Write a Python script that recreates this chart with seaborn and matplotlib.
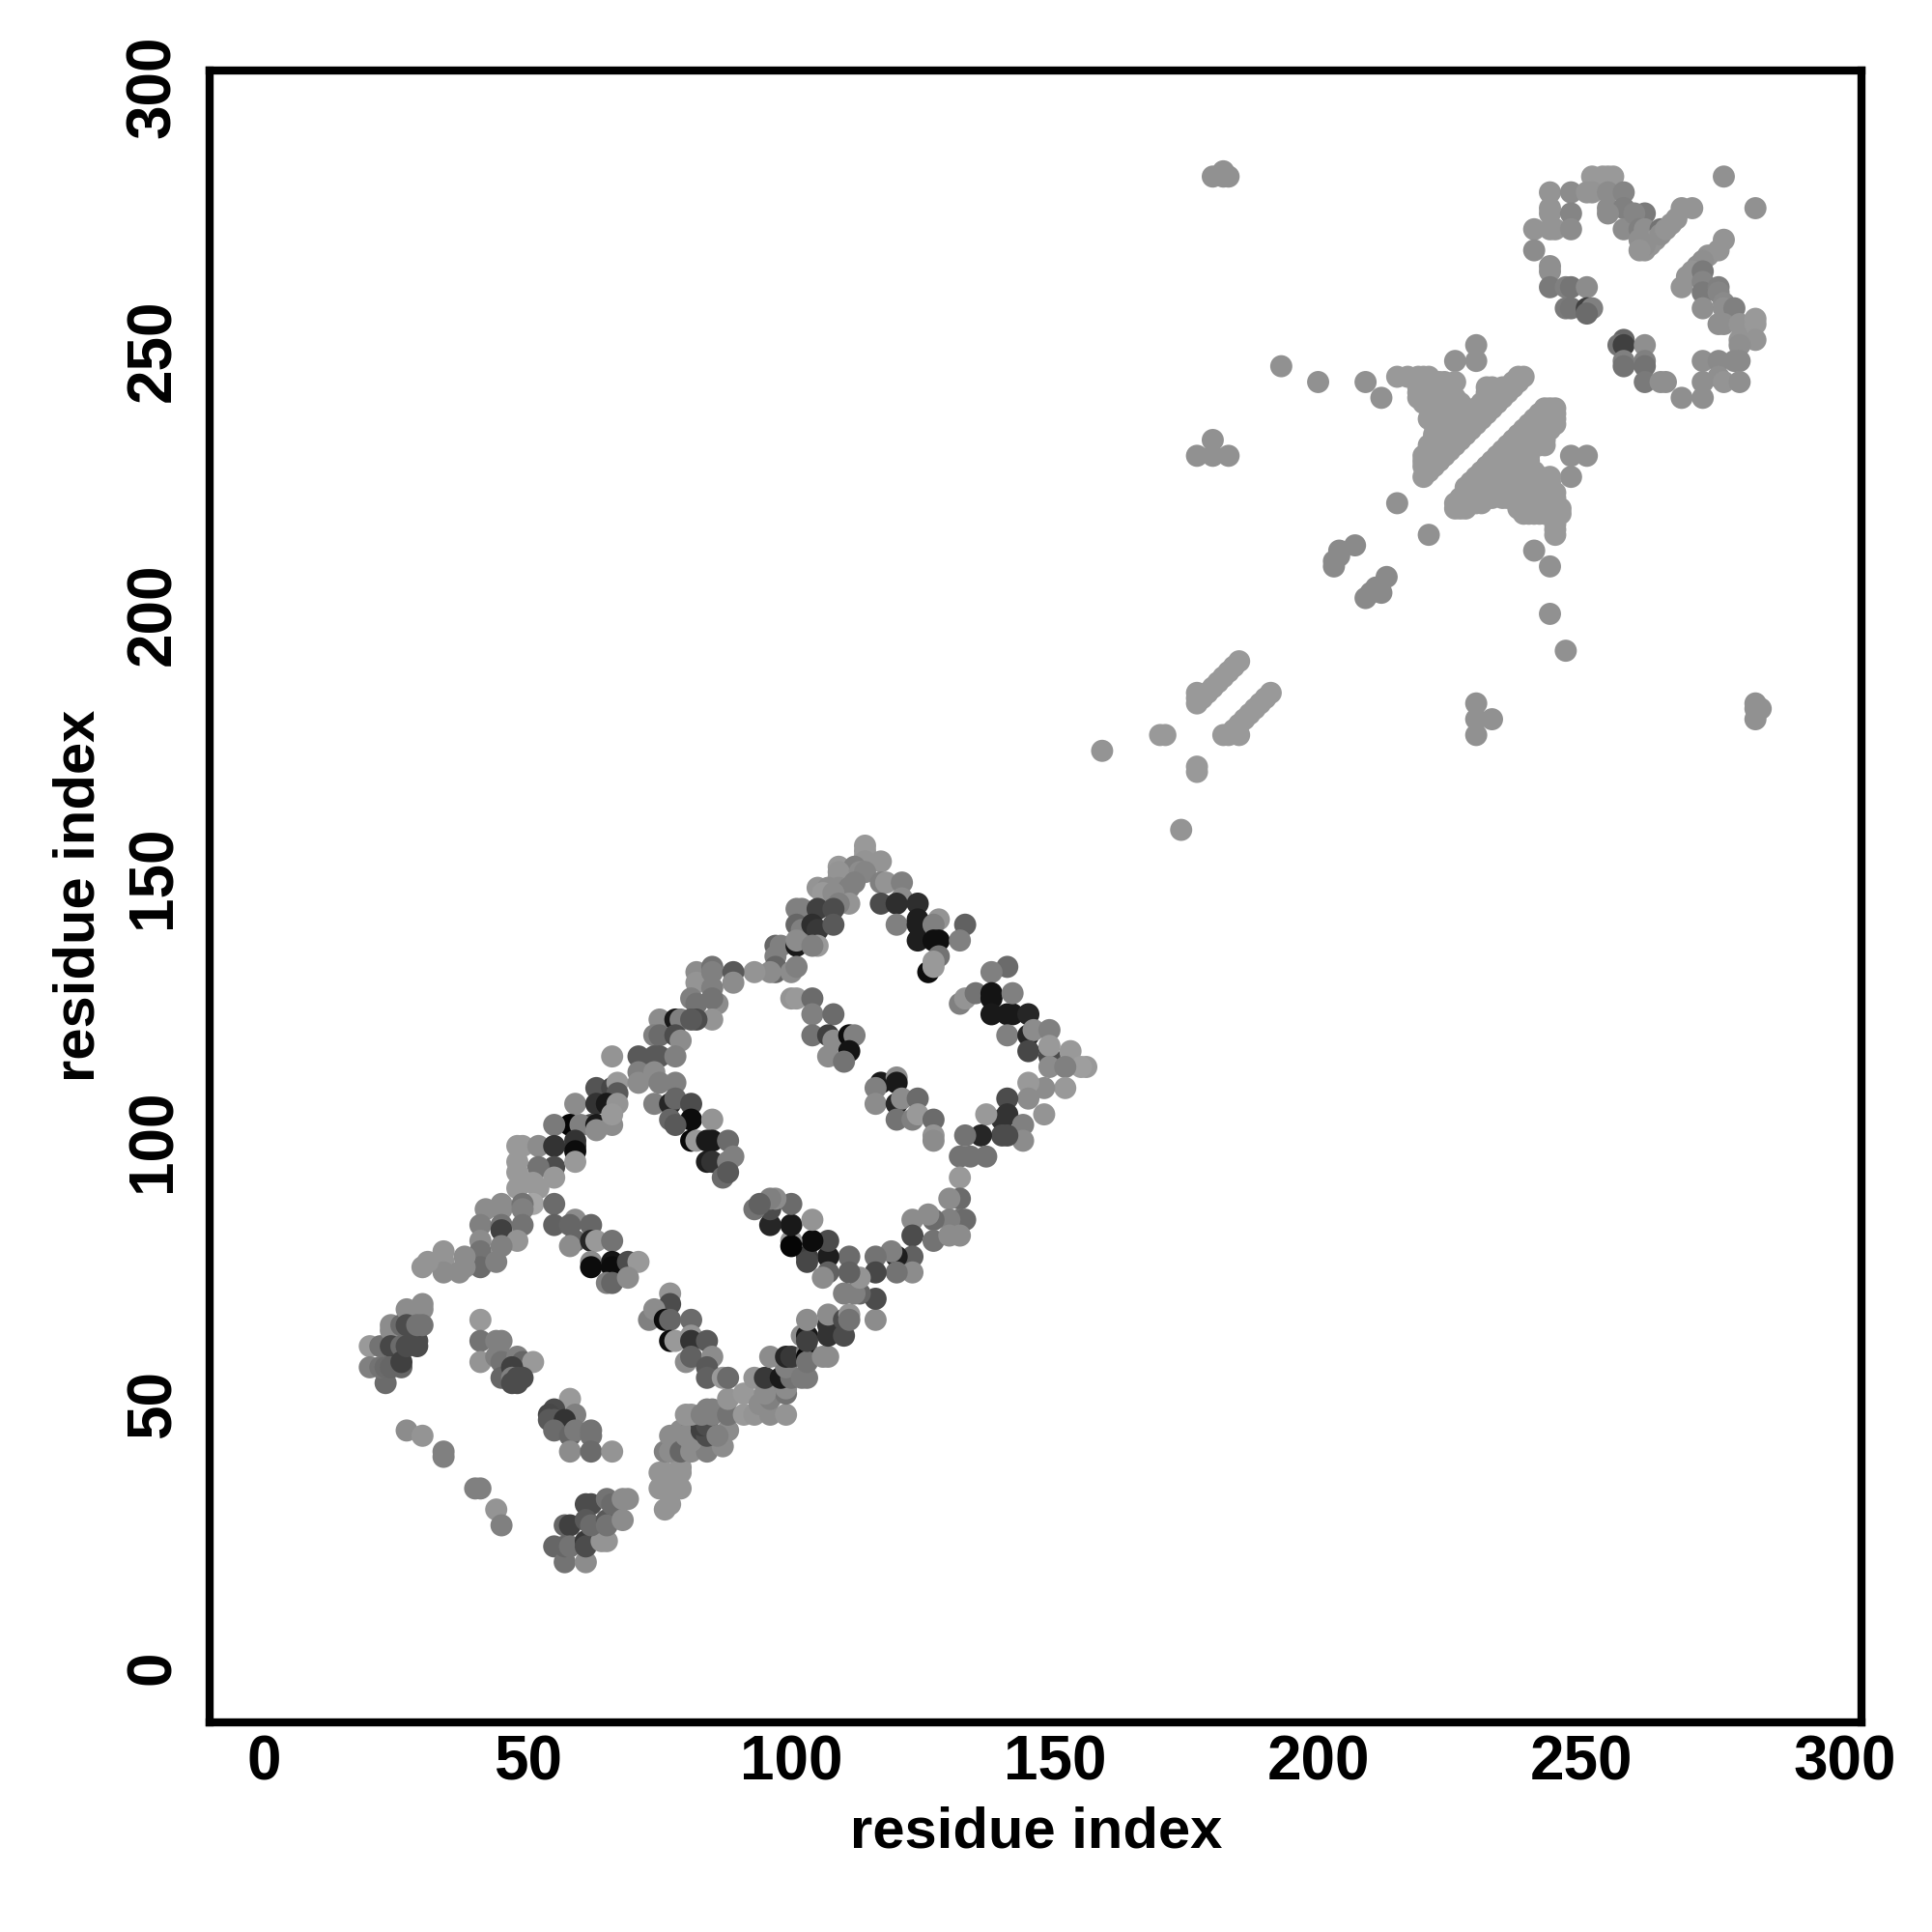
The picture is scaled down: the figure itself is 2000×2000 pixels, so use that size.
import pandas as pd
import seaborn as sns
import matplotlib.pyplot as plt

OUTPUT = "out.png"
TICKS = [0, 50, 100, 150, 200, 250, 300]
AXIS_LABEL = "residue index"

# (residue i, residue j, grey level)
patch_a = [(20,61,.6),(20,57,.5),(23,54,.42),(22,61,.45),(22,57,.45),(23,57,.42),(24,65,.55),(24,64,.55),(24,61,.28),(24,57,.4),
           (26,65,.42),(26,61,.42),(26,57,.4),(26,58,.25),(27,68,.55),(27,65,.3),(27,61,.3),(29,62,.3),(29,61,.3),(30,69,.55),
           (30,68,.55),(29,65,.45),(30,65,.45)]
patch_b = [(41,66,.6),(41,62,.45),(44,62,.5),(45,62,.5),(41,58,.58),(44,59,.5),(45,59,.5),(45,58,.45),(45,55,.4),(48,59,.5),
           (49,58,.4),(51,58,.6),(47,57,.25),(47,55,.5),(48,55,.3),(49,55,.3),(47,54,.3),(48,54,.3)]
patch_c = [(27,45,.55),(30,44,.58),(34,41,.5),(34,40,.5),(40,34,.5),(41,34,.5),(44,30,.58),(45,27,.5),(159,174,.58),(174,159,.58)]
patch_d = [(55,23,.4),(57,20,.45),(61,20,.55),(57,27,.4),(58,27,.25),(57,23,.4),(58,23,.45),(61,24,.22),(61,23,.3),(64,24,.58),
           (65,24,.58),(61,31,.3),(62,31,.3),(61,28,.35),(62,27,.42),(65,28,.35),(65,27,.45),(65,32,.45),(66,31,.42),(68,32,.55),
           (69,32,.55),(68,28,.55)]
patch_e = [(58,51,.6),(59,48,.5),(55,49,.3),(54,48,.28),(54,47,.35),(55,47,.35),(57,47,.2),(55,45,.42),(58,44,.4),(59,45,.48),
           (58,41,.55),(62,45,.45),(62,44,.45),(62,41,.42),(66,41,.58)]
patch_f = [(76,30,.58),(77,31,.58),(75,34,.58),(75,37,.58),(76,37,.58),(79,38,.58),(79,37,.58),(79,34,.58),(77,34,.58),(76,41,.5),
           (77,44,.55),(77,41,.55),(79,41,.4),(81,41,.55),(84,41,.5),(87,42,.55),(79,45,.55),(81,45,.5),(80,44,.55),(81,43,.55),
           (83,45,.25),(84,44,.3),(83,46,.25),(84,46,.3),(88,45,.55),(86,44,.5),(80,48,.58),(81,48,.58),(83,48,.5),(84,49,.5),
           (85,48,.5),(85,49,.5),(88,48,.45),(88,51,.58),(91,52,.6),(91,48,.6),(93,48,.58),(93,55,.58),(94,50,.55),(96,48,.55),
           (96,52,.5),(96,51,.5),(99,48,.58),(99,52,.45),(99,53,.55),(95,52,.55),(95,55,.22),(98,55,.1),(100,55,.45),(99,57,.5),
           (96,59,.55),(99,59,.15),(100,59,.22),(102,55,.48),(103,55,.48)]
patch_g = [(103,60,.5),(103,59,.03),(103,58,.45),(106,59,.55),(107,59,.55),(102,63,.55),(103,63,.1),(103,62,.25),(107,65,.2),(107,63,.2),(110,63,.3),
           (103,66,.55),(107,67,.55),(110,66,.3),(111,67,.58),(111,66,.45),(116,66,.55)]
patch_k = [(66,116,.58),(63,110,.33),(66,110,.28),(67,111,.6),(67,109,.35),(59,107,.55),(63,107,.2),(65,107,.1),(67,107,.58),
           (62,103,.3),(58,103,.02),(60,103,.5),(63,103,.1),(63,102,.55),(66,103,.55)]
ring_top = [(114,156,.6),(114,155,.6),(114,154,.6),(114,153,.58),(117,153,.58),(109,152,.6),(112,152,.5),(109,151,.58),(113,151,.55),
            (114,151,.52),(109,150,.58),(112,149,.5),(117,149,.5),(118,149,.58),(121,149,.5),(105,148,.58),(107,148,.55),(109,148,.55),
            (111,148,.5),(106,147,.6),(108,147,.55),(101,144,.5),(102,144,.5),(105,144,.25),(111,145,.58),(109,145,.5),(108,144,.3),
            (121,146,.55),(124,145,.18),(117,145,.3),(120,145,.18),(101,141,.4),(102,140,.5),(104,141,.18),(105,140,.22),(108,141,.35),
            (120,141,.5),(124,142,.12),(124,141,.12),(128,142,.58),(127,141,.5),(124,138,.12),(127,138,.06),(128,138,.06),(133,141,.38),
            (132,138,.5),(97,137,.4),(98,137,.5),(101,137,.1),(101,138,.55),(105,137,.6),(104,137,.5),(97,135,.5),(97,133,.4),(97,132,.4),
            (96,132,.55),(93,132,.58),(100,132,.55),(101,133,.5),(126,132,.05),(128,135,.45),(127,134,.6),(127,133,.6)]
ring_right = [(141,133,.42),(138,132,.5),(132,126,.5),(133,127,.58),(135,128,.45),(138,128,.08),(138,127,.08),(138,124,.1),(141,124,.1),
              (142,124,.1),(145,124,.15),(142,128,.5),(141,120,.5),(145,120,.15),(146,121,.55),(149,121,.5),(145,117,.28),(149,116,.3),
              (149,118,.6),(153,117,.6),(156,114,.6),(155,114,.62),(149,114,.55),(152,114,.5),(152,110,.6),(148,110,.55),(148,105,.58),
              (145,111,.6),(145,108,.55),(141,108,.3),(141,105,.2),(140,104,.2),(144,103,.5),(144,100,.55),(141,101,.3),(140,101,.3),
              (137,105,.6),(136,101,.15),(137,97,.45),(133,101,.45),(132,97,.45),(134,97,.45),(132,93,.6)]
ring_bottom = [(132,89,.42),(130,89,.55),(132,85,.45),(133,85,.42),(130,85,.5),(127,85,.42),(126,86,.55),(123,85,.55),(123,82,.3),(127,81,.45),
               (130,82,.55),(132,82,.55),(123,78,.38),(120,78,.12),(119,79,.5),(116,78,.45),(123,75,.55),(120,75,.45),(116,75,.28),(116,70,.3),
               (113,71,.4),(112,71,.5),(110,71,.5),(113,74,.58),(111,78,.42),(111,75,.38),(107,78,.12),(107,75,.38),(106,74,.55),(103,78,.25),
               (103,77,.28),(107,81,.3),(104,81,.05),(100,81,.6),(100,80,.02),(100,84,.1),(104,85,.58),(96,84,.15),(96,87,.3),(100,88,.42),
               (97,89,.55),(96,89,.5),(93,87,.45),(94,88,.38)]
inner_g = [(100,127,.58),(101,127,.6),(104,127,.42),(104,124,.5),(108,124,.42),(104,120,.45),(107,120,.25),(108,119,.55),(111,120,.05),(112,120,.5),
           (111,117,.08),(107,116,.55),(110,115,.45)]
inner_h = [(117,111,.1),(120,112,.55),(120,111,.1),(116,110,.5),(116,107,.55),(120,107,.15),(121,108,.55),(124,108,.42),(120,104,.45),(123,104,.5),
           (124,105,.6),(127,104,.42),(127,101,.58),(127,100,.55)]
ring_left = [(82,132,.55),(82,130,.58),(85,133,.45),(85,132,.5),(89,132,.35),(89,130,.55),(85,129,.5),(81,127,.5),(82,126,.45),(86,126,.55),
             (85,127,.45),(85,123,.58),(75,123,.55),(78,123,.1),(79,123,.5),(82,123,.3),(81,123,.35),(74,120,.5),(75,120,.42),(78,120,.3),
             (79,119,.55),(71,116,.35),(74,116,.35),(75,116,.35),(78,116,.5),(71,113,.5),(71,111,.55),(74,113,.55),(75,111,.5),(78,111,.5),
             (74,107,.5),(77,107,.15),(78,108,.4),(81,107,.3),(81,104,.05),(77,104,.4),(78,103,.35),(85,104,.58),(81,100,.03),(82,100,.6),
             (84,100,.1),(85,100,.1),(88,100,.42),(84,96,.12),(85,96,.2),(88,96,.5),(89,97,.5),(87,93,.42),(88,94,.35)]
ring_lower_left = [(55,103,.48),(66,105,.6),(48,99,.6),(49,99,.6),(52,99,.55),
                   (55,99,.2),(59,100,.2),(59,99,.2),(59,98,.05),(55,95,.3),(48,96,.6),(52,95,.45),(59,96,.6),(55,93,.6),(48,94,.6),
                   (48,91,.6),(52,91,.6),(51,92,.6),(49,92,.6),(51,88,.65),(42,87,.55),(45,88,.55),(45,87,.55),(49,88,.45),(49,87,.5),
                   (41,84,.5),(45,84,.45),(45,83,.25),(49,84,.45),(48,81,.58),(41,81,.55),(41,79,.45),(45,80,.5),(41,76,.42),(44,77,.5),
                   (38,78,.55),(38,76,.55),(34,79,.58),(34,77,.58),(34,75,.55),(37,75,.55),(31,77,.58),(30,76,.58)]
inner_i = [(55,88,.42),(55,84,.38),(59,85,.55),(62,84,.4),(58,84,.4),(59,81,.4),(58,80,.55),(62,81,.15),(63,81,.6),(66,81,.45),
           (62,77,.55),(62,76,.05),(66,77,.08),(66,76,.05),(69,77,.3),(71,77,.6),(65,73,.5),(66,73,.4),(69,74,.55)]
inner_j = [(77,71,.58),(77,69,.3),(73,66,.5),(74,68,.55),(76,66,.05),(77,66,.4),(81,66,.42),(77,62,.05),(78,62,.6),(81,63,.58),
           (81,62,.2),(84,62,.35),(80,58,.55),(81,59,.38),(85,59,.55),(84,57,.35),(84,55,.38),(87,55,.6),(88,55,.42)]

# second domain
stripe_x = [178, 179, 180, 181, 182, 183, 184, 185, 177, 177, 177, 183, 184, 185, 186, 187, 188, 189, 190, 191, 182, 185, 170, 171, 177, 177]
stripe_y = [184, 185, 186, 187, 188, 189, 190, 191, 185, 184, 183, 177, 178, 179, 180, 181, 182, 183, 184, 185, 177, 177, 177, 177, 171, 170]
loose_x = [180, 182, 182, 183, 180, 177, 180, 183, 193, 200, 209, 212, 230, 230, 226, 215, 221, 241, 244, 244, 247, 248, 251, 248, 230, 230, 230, 233, 283, 283, 284, 283, 277, 283]
loose_y = [283, 284, 283, 283, 233, 230, 230, 230, 247, 244, 244, 241, 251, 248, 248, 221, 215, 212, 209, 200, 193, 230, 230, 226, 183, 180, 177, 180, 183, 180, 182, 182, 283, 277]
short_x = [207, 204, 204, 203, 212, 213, 211, 210, 203, 209]
short_y = [213, 212, 211, 210, 204, 207, 205, 204, 209, 203]

wing_rows = {
    245: [215, 217, 219, 220, 221, 238, 239],
    244: [219, 220, 221, 222, 223, 224, 226, 237, 238],
    243: [219, 220, 221, 222, 223, 224, 225, 232, 233, 235, 236, 237],
    242: [219, 220, 221, 222, 223, 224, 225, 232, 233, 234, 235, 236],
    241: [219, 220, 221, 222, 223, 224, 225, 226, 232, 233, 234, 235],
    240: [220, 221, 222, 223, 224, 225, 226, 227, 231, 232, 233, 234],
    239: [222, 223, 224, 225, 226, 227, 228, 230, 231, 232, 233, 243, 244, 245],
    238: [222, 223, 224, 225, 226, 227, 228, 229, 230, 231, 232, 242, 243, 244, 245],
    237: [221, 222, 223, 224, 225, 226, 227, 228, 229, 230, 231, 241, 242, 243, 244, 245],
    236: [222, 223, 224, 225, 226, 227, 228, 229, 230, 240, 241, 242, 243, 244, 245],
    235: [223, 224, 225, 226, 227, 228, 229, 239, 240, 241, 242, 243, 244],
    234: [222, 223, 224, 225, 226, 227, 228, 238, 239, 240, 241, 242, 243],
    233: [222, 223, 224, 225, 226, 227, 237, 238, 239, 240, 241, 242, 243],
    232: [221, 222, 223, 224, 225, 226, 236, 237, 238, 239, 240, 241, 242, 243],
    231: [221, 222, 223, 224, 225, 235, 236, 237, 238, 239, 240],
    230: [220, 221, 222, 223, 224, 234, 235, 236, 237, 238, 239, 240],
    229: [220, 221, 222, 223, 233, 234, 235, 236, 237, 238, 239, 240],
    228: [220, 221, 222, 232, 233, 234, 235, 236, 237, 238, 239, 240],
    227: [221, 231, 232, 233, 234, 235, 236, 237, 238, 239, 240, 241],
    226: [220, 230, 231, 232, 233, 234, 235, 236, 237, 238, 239, 240, 241, 242, 244],
    225: [229, 230, 231, 232, 233, 234, 235, 236, 237, 238, 239, 240, 241, 242, 243, 244],
    224: [228, 229, 230, 231, 232, 233, 234, 235, 236, 237, 238, 239, 240, 241, 242, 243, 244],
    223: [228, 229, 230, 231, 232, 233, 234, 235, 236, 238, 239, 240, 241, 242, 243, 244, 245],
    222: [227, 228, 229, 230, 231, 232, 233, 235, 236, 238, 239, 240, 241, 242, 243, 244, 245],
    221: [226, 227, 228, 229, 230, 231, 238, 239, 240, 241, 242, 243, 244, 245],
    220: [226, 227, 228, 238, 239, 240, 241, 242, 243, 244, 245, 246],
    219: [239, 240, 241, 242, 243, 244, 245, 246],
    217: [245],
    216: [245],
    215: [245],
}

loop_patch = [(244,280,.58),(244,277,.58),(244,276,.58),(248,280,.55),(248,276,.52),(241,273,.58),(244,273,.58),(245,273,.58),(248,273,.55),
              (241,269,.55),(244,266,.56),(244,265,.56),(244,262,.48),(247,262,.5),(248,262,.46),(251,262,.55),(247,258,.48),(248,258,.46),
              (251,258,.25),(252,258,.5),(251,257,.42),(252,283,.6),(254,283,.6),(255,283,.6),(256,283,.6),(251,280,.58),(252,280,.58),
              (255,280,.55),(258,280,.52),(255,277,.55),(258,277,.5),(255,276,.55),(258,273,.55),(262,276,.48),(260,276,.52),(261,273,.5),
              (262,273,.56),(265,273,.45),(262,269,.58),(263,270,.58),(264,271,.58),(265,272,.56),(266,273,.58),(267,274,.58),(268,275,.58),
              (269,277,.58),(271,277,.58),(261,271,.56),(262,270,.56),(261,269,.58),(277,271,.58),(276,269,.58),(274,268,.58),(273,267,.56),
              (272,266,.56),(271,265,.58),(270,264,.58),(269,262,.58),(273,265,.48),(273,263,.52),(273,261,.48),(276,262,.5),(276,261,.52),
              (273,258,.56),(277,259,.54),(277,258,.56),(279,258,.5),(276,255,.56),(277,255,.56),(280,255,.58),(283,256,.6),(283,255,.6),
              (283,252,.58),(280,252,.58),(280,251,.56),(273,248,.56),(276,248,.54),(280,248,.54),(279,248,.54),(273,244,.56),(276,245,.56),
              (277,244,.58),(280,244,.56),(273,241,.56),(269,241,.56),(258,252,.4),(257,251,.45),(258,251,.25),(258,248,.5),(258,247,.45),
              (262,251,.56),(262,248,.5),(262,247,.45),(262,244,.48),(265,244,.56),(266,244,.56)]

point_groups = [patch_a, patch_b, patch_c, patch_d, patch_e, patch_f, patch_g, patch_k, ring_top, ring_right, ring_bottom, inner_g, inner_h,
                ring_left, ring_lower_left, inner_i, inner_j, loop_patch]


def build_table():
    rows = []
    for group in point_groups:
        rows.extend(group)
    rows.extend((x, y, 0.6) for x, y in zip(stripe_x, stripe_y))
    rows.extend((x, y, 0.57) for x, y in zip(loose_x, loose_y))
    rows.extend((x, y, 0.54) for x, y in zip(short_x, short_y))
    for y, xs in wing_rows.items():
        rows.extend((x, y, 0.6) for x in xs)
    return pd.DataFrame(rows, columns=["i", "j", "grey"])


if __name__ == "__main__":
    df = build_table()

    sns.set_theme(style="white")
    plt.rcParams["font.family"] = ["Liberation Sans", "DejaVu Sans"]
    plt.rcParams["font.weight"] = "bold"

    fig = plt.figure(figsize=(10, 10), dpi=200)
    ax = fig.add_axes([0.1085, 0.1085, 0.8552, 0.8552])

    sns.scatterplot(
        data=df, x="i", y="j", hue="grey", palette="gray", hue_norm=(0, 1),
        s=68, linewidth=0, legend=False, ax=ax,
    )

    ax.set_xlim(-10.4, 303.2)
    ax.set_ylim(-10.4, 303.2)
    ax.set_xticks(TICKS)
    ax.set_yticks(TICKS)
    ax.tick_params(axis="both", length=4, width=1.6, color="black", labelsize=23, labelcolor="black")
    ax.tick_params(axis="x", pad=0.5)
    ax.tick_params(axis="y", pad=6)
    for label in ax.get_yticklabels():
        label.set_rotation(90)
        label.set_va("center")
    ax.set_xlabel(AXIS_LABEL, fontsize=21.5, fontweight="bold", color="black", labelpad=5)
    ax.set_ylabel(AXIS_LABEL, fontsize=21.5, fontweight="bold", color="black", labelpad=7)
    for spine in ax.spines.values():
        spine.set_linewidth(3)
        spine.set_color("black")

    fig.savefig(OUTPUT, dpi=200)
    plt.close(fig)
